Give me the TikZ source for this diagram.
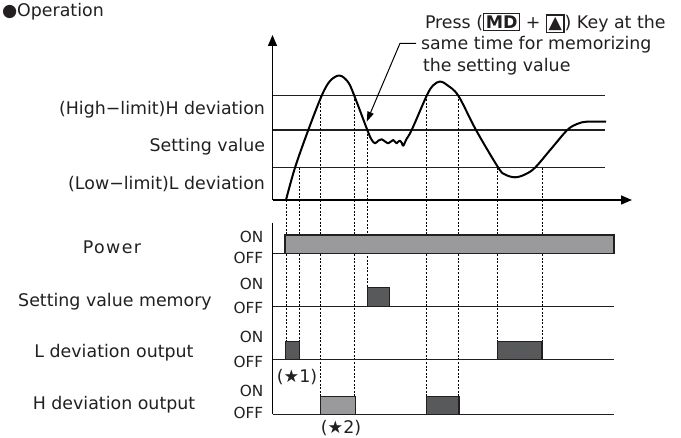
\documentclass[tikz,border=0pt]{standalone}
\usepackage{fontspec}
\setmainfont{DejaVu Sans}
\usetikzlibrary{arrows.meta}
\definecolor{lightbar}{HTML}{9A9A9C}
\definecolor{darkbar}{HTML}{58595B}
\definecolor{linec}{HTML}{231F20}
\newcommand{\keyfr}[1]{{\setlength{\fboxsep}{1.5pt}\setlength{\fboxrule}{1.2pt}\fbox{#1}}}
\begin{document}
\begin{tikzpicture}[x=1pt,y=-1pt,
  every node/.style={inner sep=0pt, outer sep=0pt, font=\fontsize{17.4}{20}\selectfont, text=linec},
  lbl/.style={anchor=base east},
  onoff/.style={anchor=base east, font=\fontsize{15.3}{18}\selectfont},
  rowlbl/.style={anchor=base},
  level/.style={draw=linec, line width=1.2pt},
  axisarrow/.style={draw=black, line width=1.5pt, -{Triangle[length=11pt,width=9pt]}},
  guide/.style={draw=black, line width=0.9pt, dash pattern=on 2pt off 1.6pt},
  bar/.style={draw=linec, line width=1.2pt},
  curve/.style={draw=black, line width=2pt, line join=round},
]
\useasboundingbox (0,0) rectangle (681,438);

% title
\node[anchor=base west] (title) at (2,16.7) {●Operation};

% axes
\coordinate (o) at (272.5,200);
\coordinate (ytip) at (272.5,35);
\coordinate (xtip) at (632,200);
\draw[axisarrow] (o) -- (ytip);
\draw[axisarrow] (o) -- (xtip);

% levels
\coordinate (hA) at (272.5,95.7);  \coordinate (hB) at (605,95.7);
\coordinate (sA) at (272.5,130);   \coordinate (sB) at (605,130);
\coordinate (lA) at (272.5,167.7); \coordinate (lB) at (605,167.7);
\draw[level] (hA) -- (hB);
\draw[level] (sA) -- (sB);
\draw[level] (lA) -- (lB);

% level labels
\node[lbl] (hlab) at (265,115) {(High−limit)H deviation};
\node[lbl] (slab) at (265,151.7) {Setting value};
\node[lbl] (llab) at (265,189.3) {(Low−limit)L deviation};

% guides (dotted)
\foreach \x/\ya/\yb in {286/200/341.7, 299.7/167.7/341.7, 320.7/95.7/396.7,
  354.7/95.7/396.7, 367.7/130/287.7, 426.7/95.7/396.7, 458.7/95.7/396.7,
  497.3/167.7/341.7, 542.3/167.7/341.7}
  \draw[guide] (\x,\ya) -- (\x,\yb);

% process curve
\draw[curve] plot[smooth, tension=0.55] coordinates {
 (286,200) (295,167.7) (308.3,130) (321.7,95.7) (330,81) (339.5,75.5) (348,82)
 (354.3,95.7) (367.3,130) (371.5,139.5) (375,143.3) (378.5,140.5) (381.7,139.3) (385,141.5)
 (388.3,143.3) (391,141.5) (393.3,140) (395,141.8) (396.7,143.3) (398.5,141.5) (400,140.7)
 (401.8,143) (403.3,145.7) (406.5,139) (411.7,130) (426.7,95.7) (433,85.5)
 (440,81.5) (447,85) (458.3,95.7) (476,130) (498.3,167.7) (505,174.5)
 (515,177.3) (525,174.5) (535,167.7) (551,149) (567.3,130) (577,124) (586.7,121.7) (606,121.7)};

% note with leader
\node[anchor=base west] (n1) at (425,28.3) {Press (\keyfr{\textbf{MD}} + \keyfr{▲}) Key at the};
\node[anchor=base west] (n2) at (421,50) {same time for memorizing};
\node[anchor=base west] (n3) at (423,71.7) {the setting value};
\coordinate (lead0) at (416,43.3);
\coordinate (lead1) at (400,43.3);
\coordinate (leadtip) at (366.7,121.7);
\draw[black, line width=1pt, -{Triangle[length=10pt,width=6.5pt]}] (lead0) -- (lead1) -- (leadtip);

% lower timing chart
\coordinate (tA) at (272.5,223);
\coordinate (tB) at (272.5,414.3);
\draw[black, line width=1.5pt] (tA) -- (tB);

% power
\draw[level] (272.5,253.3) -- (285,253.3);
\draw[bar, fill=lightbar] (285,235) rectangle (614,253.3);
% memory
\draw[level] (272.5,306.7) -- (614,306.7);
\draw[bar, fill=darkbar] (367.7,287.7) rectangle (389.3,306.7);
% L deviation
\draw[level] (272.5,359.7) -- (614,359.7);
\draw[bar, fill=darkbar] (285.7,341.7) rectangle (299.7,359.7);
\draw[bar, fill=darkbar] (497.3,341.7) rectangle (542,359.7);
% H deviation
\draw[level] (272.5,414.3) -- (614,414.3);
\draw[bar, fill=lightbar] (320.7,396.7) rectangle (355.3,414.3);
\draw[bar, fill=darkbar] (426.7,396.7) rectangle (459,414.3);

% row labels
\node[rowlbl] (rpow) at (112,253.8) {\addfontfeature{LetterSpace=8}Power};
\node[rowlbl] (rmem) at (115,306.5) {Setting value memory};
\node[rowlbl] (rl) at (114,358) {L deviation output};
\node[rowlbl] (rh) at (114,410) {H deviation output};

% ON/OFF labels
\node[onoff] (on1) at (263.3,243) {ON};
\node[onoff] (off1) at (263.3,263.3) {OFF};
\node[onoff] (on2) at (263.3,290) {ON};
\node[onoff] (off2) at (263.3,313.3) {OFF};
\node[onoff] (on3) at (263.3,342.7) {ON};
\node[onoff] (off3) at (263.3,367.3) {OFF};
\node[onoff] (on4) at (263.3,396.7) {ON};
\node[onoff] (off4) at (263.3,418.3) {OFF};

% star notes
\node (s1) at (297,376.7) {(★1)};
\node (s2) at (341,428.3) {(★2)};
\end{tikzpicture}
\end{document}
